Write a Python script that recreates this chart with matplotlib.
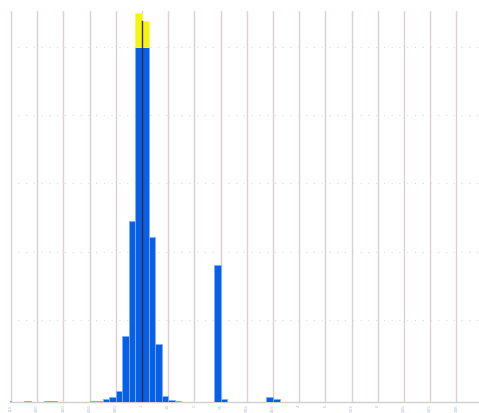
import matplotlib
matplotlib.use("Agg")
import matplotlib.pyplot as plt

# ---- data ----
bin_index = [-1, 2, 5, 6, 12, 13, 14, 15, 16, 17, 18, 19, 20, 21, 22, 23, 24, 25, 31, 32, 39, 40]
blue_counts = [1.5, 1.5, 1.5, 1.5, 1.5, 2, 4, 7, 16.5, 97, 265, 520, 520, 241, 85, 9, 3, 1.5, 201, 4.5, 7, 5]
yellow_index = [19, 20]
yellow_counts = [49, 37]
tick_labels = ["115", "300", "300", "400", "300", "1", "25", "5", "25", "305",
               "415", "4", "6", "502", "8", "105", "205", "106"]
hgrid_values = [120, 220, 320, 420, 520]
bin_width = 0.25

fig = plt.figure(figsize=(4.79, 4.14), dpi=100)
ax = fig.add_axes([10 / 479, 11 / 414, 1 - 10 / 479, 391 / 414])

blue_x = [i * bin_width for i in bin_index]
ax.bar(blue_x, blue_counts, width=bin_width, align="edge",
       color="#065fe6", edgecolor="#7fb0ff", linewidth=0.6, zorder=3)
yellow_x = [i * bin_width for i in yellow_index]
yellow_bottom = [blue_counts[bin_index.index(i)] for i in yellow_index]
ax.bar(yellow_x, yellow_counts, width=bin_width, bottom=yellow_bottom, align="edge",
       color="#f5f50a", edgecolor="#f5f580", linewidth=0.6, zorder=3)

# dark line through the peak
peak_x = yellow_x[-1]
peak_top = min(b + y for b, y in zip(yellow_bottom, yellow_counts))
ax.plot([peak_x, peak_x], [0, peak_top], color="#3a2a3a", lw=1.0, zorder=4)

ax.set_xlim(-1 / 26.2, 468 / 26.2)
ax.set_ylim(0, 572)

ax.set_xticks(range(len(tick_labels)))
ax.set_xticklabels(tick_labels, rotation=90, fontsize=3.0, color="#b0b8f0")
ax.tick_params(axis="x", length=0, pad=0.8)
ax.set_yticks([])

for k in range(len(tick_labels)):
    ax.axvline(k, color="#e0cdd0", lw=1.0, zorder=1)
for v in hgrid_values:
    ax.axhline(v, color="#dadada", lw=0.8, linestyle=(0, (1, 6)), zorder=1)

for s in ["top", "left", "right"]:
    ax.spines[s].set_visible(False)
ax.spines["bottom"].set_color("#d0d0d0")
ax.spines["bottom"].set_linewidth(1.0)

fig.savefig("out.png", dpi=100)
